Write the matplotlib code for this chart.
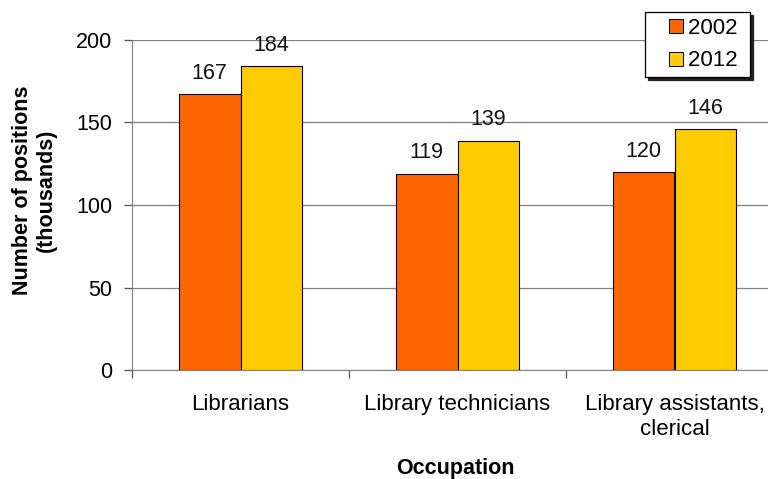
import matplotlib.pyplot as plt
from matplotlib.lines import Line2D
import numpy as np

plt.rcParams['font.family'] = ['Liberation Sans', 'DejaVu Sans']

occupations = ['Librarians', 'Library technicians', 'Library assistants,\nclerical']
years = ['2002', '2012']
positions_2002 = [167, 119, 120]
positions_2012 = [184, 139, 146]
colors = ['#FF6600', '#FFCC00']

fig = plt.figure(figsize=(7.68, 4.79), dpi=100)
ax = fig.add_axes([132 / 768, 1 - 370 / 479, 1 - 132 / 768, 330 / 479])

x = np.arange(len(occupations))
w = 0.283
for i, (vals, yr) in enumerate(zip([positions_2002, positions_2012], years)):
    bars = ax.bar(x + (i - 0.5) * w, vals, w, color=colors[i], edgecolor='black',
                  linewidth=0.8, label=yr, zorder=3)
    for b, v in zip(bars, vals):
        ax.annotate(str(v), (b.get_x() + b.get_width() / 2, v), xytext=(0, 7.5),
                    textcoords='offset points', ha='center', va='bottom',
                    fontsize=15.5, color='#111111')

ax.set_yticks([0, 50, 100, 150, 200])
ax.yaxis.grid(True, color='#808080', linewidth=0.9, zorder=0)
ax.set_xticks(x)
ax.set_xticklabels(occupations, fontsize=16, linespacing=1.25)
ax.tick_params(axis='x', length=0, pad=17)
# boundary ticks between categories
ax.set_xticks(np.arange(len(occupations) + 1) - 0.5, minor=True)
ax.tick_params(axis='x', which='minor', length=6, color='#555555', width=0.9)
ax.tick_params(axis='y', length=6, color='#555555', width=0.9, labelsize=15.5, pad=8)
# limits last, set_xticks would widen them; the third category runs off the right edge
ax.set_ylim(0, 200)
ax.set_xlim(-0.5, -0.5 + 636 / 217)

for s in ['top', 'right']:
    ax.spines[s].set_visible(False)
ax.spines['left'].set_color('#808080')
ax.spines['bottom'].set_color('#808080')

ax.set_ylabel('Number of positions\n(thousands)', fontsize=15.5, fontweight='bold')
ax.yaxis.set_label_coords(-0.118, 0.545)
ax.set_xlabel('Occupation', fontsize=15.5, fontweight='bold')
ax.xaxis.set_label_coords(0.509, -0.268)

handles = [Line2D([], [], ls='none', marker='s', markersize=9.6, markerfacecolor=c,
                  markeredgecolor='black', markeredgewidth=0.7) for c in colors]
leg = ax.legend(handles, [y + ' ' for y in years], loc='upper right',
                bbox_to_anchor=(750 / 768, 1 - 12 / 479),
                bbox_transform=fig.transFigure, fontsize=16,
                frameon=True, fancybox=False, shadow={'color': '#222222', 'alpha': 1},
                handlelength=2.3, borderpad=0.26,
                labelspacing=0.52, handletextpad=-0.6, borderaxespad=0)
leg.get_frame().set_edgecolor('black')
leg.get_frame().set_linewidth(0.9)

plt.savefig('out.png', dpi=100)
